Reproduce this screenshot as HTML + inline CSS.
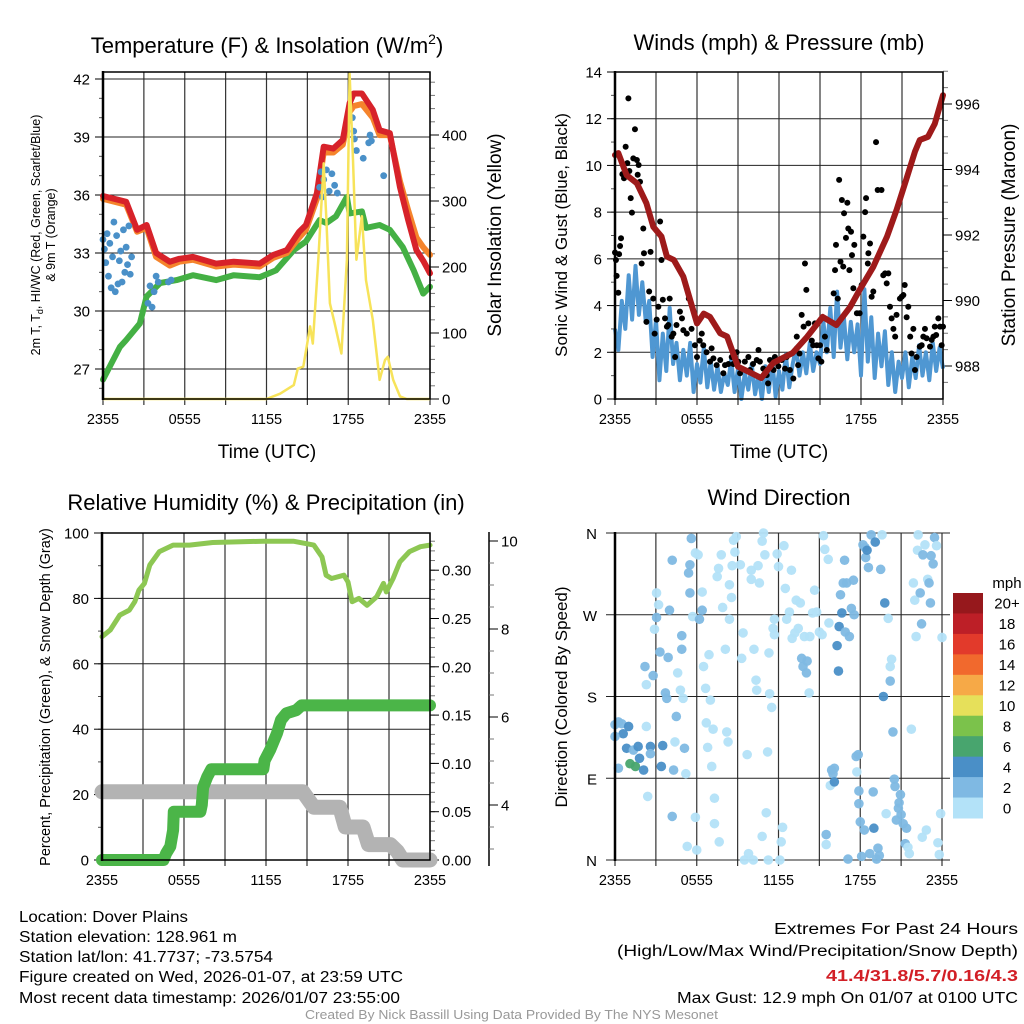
<!DOCTYPE html>
<html><head><meta charset="utf-8">
<style>
html,body{margin:0;padding:0;background:#fff;}
svg{display:block;font-family:"Liberation Sans",sans-serif;}
</style></head>
<body>
<svg id="chart" width="1024" height="1024" viewBox="0 0 1024 1024" xmlns="http://www.w3.org/2000/svg">
<rect x="0" y="0" width="1024" height="1024" fill="#fff"/>
<text x="267" y="53" font-size="22" text-anchor="middle">Temperature (F) &amp; Insolation (W/m<tspan font-size="14" dy="-9">2</tspan><tspan dy="9">)</tspan></text>
<text x="779" y="50" font-size="22" text-anchor="middle">Winds (mph) &amp; Pressure (mb)</text>
<text x="266" y="510" font-size="22" text-anchor="middle">Relative Humidity (%) &amp; Precipitation (in)</text>
<text x="779" y="505" font-size="22" text-anchor="middle">Wind Direction</text>

<text x="267" y="458" font-size="19" text-anchor="middle">Time (UTC)</text>
<text x="779" y="458" font-size="19" text-anchor="middle">Time (UTC)</text>

<text transform="translate(40,235) rotate(-90)" font-size="12.5" text-anchor="middle">2m T, T<tspan font-size="9" dy="3">d</tspan><tspan dy="-3">, HI/WC (Red, Green, Scarlet/Blue)</tspan></text>
<text transform="translate(55,235) rotate(-90)" font-size="12.5" text-anchor="middle">&amp; 9m T (Orange)</text>
<text transform="translate(501,235) rotate(-90)" font-size="19" text-anchor="middle">Solar Insolation (Yellow)</text>
<text transform="translate(567,235) rotate(-90)" font-size="17" text-anchor="middle">Sonic Wind &amp; Gust (Blue, Black)</text>
<text transform="translate(1015,235) rotate(-90)" font-size="19" text-anchor="middle">Station Pressure (Maroon)</text>
<text transform="translate(50,697) rotate(-90)" font-size="14.5" text-anchor="middle">Percent, Precipitation (Green), &amp; Snow Depth (Gray)</text>
<text transform="translate(567,697) rotate(-90)" font-size="17" text-anchor="middle">Direction (Colored By Speed)</text>

<g font-size="15.5">
<text x="19" y="922" textLength="169" lengthAdjust="spacingAndGlyphs">Location: Dover Plains</text>
<text x="19" y="942" textLength="218" lengthAdjust="spacingAndGlyphs">Station elevation: 128.961 m</text>
<text x="19" y="962" textLength="254" lengthAdjust="spacingAndGlyphs">Station lat/lon: 41.7737; -73.5754</text>
<text x="19" y="982" textLength="384" lengthAdjust="spacingAndGlyphs">Figure created on Wed, 2026-01-07, at 23:59 UTC</text>
<text x="19" y="1003" textLength="381" lengthAdjust="spacingAndGlyphs">Most recent data timestamp: 2026/01/07 23:55:00</text>
</g>
<g font-size="15.5">
<text x="774" y="934" textLength="244" lengthAdjust="spacingAndGlyphs">Extremes For Past 24 Hours</text>
<text x="617" y="956" textLength="401" lengthAdjust="spacingAndGlyphs">(High/Low/Max Wind/Precipitation/Snow Depth)</text>
<text x="826" y="981" textLength="192" lengthAdjust="spacingAndGlyphs" fill="#d21f26" font-weight="bold">41.4/31.8/5.7/0.16/4.3</text>
<text x="677" y="1003" textLength="341" lengthAdjust="spacingAndGlyphs">Max Gust: 12.9 mph On 01/07 at 0100 UTC</text>
</g>
<text x="305" y="1019" font-size="12.5" fill="#999" textLength="413" lengthAdjust="spacingAndGlyphs">Created By Nick Bassill Using Data Provided By The NYS Mesonet</text>
</svg>
<script>
// ---------- DATA ----------
const redT = [0,1.7,2.5,3.2,3.9,4.9,5.6,6.6,8.3,9.6,11.5,12.5,13.5,14.4,14.9,15.7,16.2,16.9,17.6,18.1,18.4,19,19.8,20.3,21.05,21.8,22.4,23,23.5,24];
const redV = [35.95,35.65,34.2,34.45,33.0,32.55,32.7,32.8,32.45,32.55,32.45,32.9,33.15,34.1,34.45,36.1,38.5,38.4,38.85,40.75,41.25,41.25,40.4,39.35,39.2,36.4,34.7,33.15,32.6,31.95];
const orangeV = [35.8,35.5,34.1,34.3,32.8,32.35,32.55,32.65,32.3,32.4,32.3,32.75,33.0,33.8,34.2,35.8,38.2,38.2,38.6,40.3,40.6,40.7,40.0,39.1,39.1,36.7,35.2,33.8,33.3,32.9];
const greenT = [0,1.25,1.7,2.7,3.2,4.2,5.4,6.6,8.3,9.6,11.5,12.7,14,14.9,15.9,16.4,17.1,17.9,18.1,19,19.3,20.3,21.05,22,22.8,23.5,24];
const greenV = [26.45,28.15,28.5,29.35,30.75,31.45,31.6,31.85,31.6,31.85,31.75,32.1,33.15,33.6,34.7,34.55,34.9,35.9,35.05,35.15,34.3,34.45,34.2,33.3,32.1,30.9,31.25];
const hiwcT = [0,0.1,0.2,0.3,0.4,0.5,0.6,0.7,0.8,0.9,1.0,1.1,1.2,1.3,1.4,1.5,1.6,1.7,1.8,1.9,2.0,2.1,3.3,3.45,3.6,3.75,3.9,4.05,4.8,5.0,15.9,16.0,16.1,16.2,16.4,16.6,16.8,17.0,17.2,18.3,18.4,18.45,18.6,19.1,19.5,19.6,19.7,20.6];
const hiwcV = [33.7,33.2,32.5,34.0,31.8,33.5,31.2,32.8,34.6,31.0,33.9,31.4,32.6,33.1,31.5,34.2,32.0,33.3,32.4,34.4,31.9,32.8,30.4,31.3,30.2,31.0,31.8,31.5,31.5,31.6,36.4,37.2,35.9,36.8,37.3,36.2,37.1,36.5,36.1,40.0,39.3,38.9,38.3,37.9,38.7,39.1,38.8,37.0];
const solarT = [0,12,13,14,14.3,14.7,15.2,15.4,15.8,16.2,16.4,16.65,17,17.5,17.9,18.1,18.35,18.6,19,19.3,19.8,20.3,20.7,20.9,21.3,21.8,22.3,24];
const solarV = [0,0,8,21,46,49,110,84,211,357,271,145,115,69,211,493,362,211,277,180,120,29,59,64,29,4,0,0];
const tempTicks = [27,30,33,36,39,42];
const solarTicks = [0,100,200,300,400];
const timeLabels = ["2355","0555","1155","1755","2355"];

const presT = [0,0.24,0.85,1.6,2.3,2.8,3.4,3.8,4.3,5,6,6.5,6.95,7.7,8.2,9,9.9,10.7,11.6,13,14,15.2,16.2,17.2,17.9,18.9,19.9,20.6,21.3,21.95,22.3,22.9,23.4,24];
const presV = [994.44,994.5,993.83,993.58,992.97,992.25,991.95,991.34,991.24,990.73,989.3,989.6,989.5,989.0,988.9,987.98,987.8,987.63,988.1,988.4,988.86,989.5,989.25,989.8,990.32,991.03,991.95,992.76,993.68,994.55,994.9,995.0,995.4,996.27];
const windV = [3.0,2.1,4.2,3.0,5.3,3.4,5.7,3.6,5.0,3.3,4.2,1.8,3.4,0.8,2.8,1.2,3.9,1.5,2.4,0.8,2.1,1.0,2.4,0.3,1.5,0.7,2.2,0.5,1.6,0.4,1.4,0.3,1.1,0.6,1.7,0.3,1.3,0.0,1.1,0.4,1.5,0.2,1.0,0.0,1.4,0.3,1.7,0.1,1.2,0.4,1.9,0.5,1.5,2.2,1.0,2.0,1.1,2.4,1.2,2.0,1.5,3.3,2.0,3.9,1.8,4.6,2.2,3.5,1.7,3.3,2.0,3.2,1.0,4.7,1.6,3.5,0.9,2.8,1.4,2.9,0.6,2.0,0.3,1.6,0.9,2.0,0.5,1.8,0.9,2.3,1.0,2.0,0.8,2.4,1.2,2.2,1.3];
const gustT = [0,0.07,0.12,0.24,0.3,0.37,0.44,0.54,0.66,0.78,0.9,0.98,1.05,1.15,1.24,1.34,1.46,1.6,1.66,1.73,1.83,1.95,2.07,2.12,2.3,2.5,2.6,2.8,2.9,3.05,3.17,3.3,3.4,3.5,3.66,3.8,3.9,4,4.15,4.27,4.4,4.5,4.75,4.9,5,5.25,5.4,5.6,5.85,6,6.2,6.35,6.46,6.7,6.95,7.07,7.2,7.44,7.7,7.93,8.05,8.3,8.54,8.66,8.9,9.02,9.15,9.27,9.5,9.76,9.88,10.1,10.37,10.5,10.6,10.85,11.1,11.2,11.34,11.6,11.7,11.95,12.2,12.44,12.56,12.8,13.05,13.3,13.4,13.5,13.66,13.8,13.9,14,14.15,14.4,14.5,14.63,14.76,14.88,15,15.1,15.36,15.5,16,16.1,16.17,16.3,16.4,16.5,16.6,16.7,16.76,16.9,17,17.07,17.15,17.27,17.34,17.44,17.51,17.7,17.9,18.05,18.17,18.3,18.37,18.5,18.54,18.66,18.78,18.9,19.1,19.22,19.5,19.63,19.76,19.88,20,20.12,20.24,20.37,20.5,20.6,20.85,20.98,21.1,21.2,21.34,21.46,21.6,21.7,21.83,21.95,22.07,22.3,22.44,22.56,22.68,22.8,23.05,23.17,23.3,23.4,23.5,23.66,23.78,23.9,24];
const gustV = [6.27,5.95,5.27,4.55,6.2,6.55,6.88,9.63,9.45,10.8,10.1,12.87,9.76,8.6,7.98,10.3,11.55,10.23,9.6,10.02,9.3,5.8,7.3,6.24,3.3,4.6,6.3,4.3,2.8,3.4,3.95,7.6,5.95,4.25,3.45,3.1,3.17,4.3,2.67,2.8,1.8,3.17,3.74,3.45,2.95,2.8,4.3,3.0,2.3,1.8,2.5,2.8,2.3,2.0,1.6,2.17,1.74,1.45,1.67,1.1,1.45,1.5,1.8,1.5,2.0,1.6,1.1,1.3,1.6,1.8,1.24,1.5,1.67,2.1,1.6,1.3,1.02,0.67,1.67,1.24,1.8,1.4,1.67,1.3,1.8,1.24,0.88,2.67,1.45,1.95,3.6,3.1,5.8,4.67,3.24,2.5,2.3,3.24,2.3,1.74,2.3,1.6,2.67,2.1,4.52,5.52,6.6,4.3,9.38,5.88,8.52,5.67,7.95,6.9,8.4,7.3,5.52,7.16,6.16,4.74,6.6,3.67,3.67,4.88,6.95,8.0,8.6,5.8,6.24,6.66,4.38,4.6,11.0,8.95,8.95,5.3,5.38,4.95,5.38,3.95,3.45,3.0,2.67,3.6,4.3,4.38,4.45,4.88,3.5,3.95,2.67,1.95,3.0,1.24,1.8,2.24,2.3,2.67,3.0,2.6,2.24,2.53,2.67,3.1,2.74,3.45,3.1,2.3,3.1];
const windTicks = [0,2,4,6,8,10,12,14];
const presTicks = [988,990,992,994,996];

const rhT = [0,0.6,1.3,2,2.4,2.7,3.1,3.5,4.2,5.2,6.4,8.1,11.8,14,15.5,16.1,16.4,16.8,17.7,18,18.3,18.8,19.4,20.1,20.6,20.8,21.3,21.8,22.5,23.3,24];
const rhV = [68.3,70.3,74.9,76.4,79,82.5,84.6,90.2,94.3,96.3,96.3,97.1,97.5,97.5,96.3,92.7,87.1,86.1,87.1,85,79,80,77.9,80.5,84.6,82,86.1,91.2,94.3,95.8,96.3];
const precipT = [0,4.5,4.7,5,5.2,5.25,7.2,7.3,7.4,7.7,8,11.8,11.9,12.3,12.8,13.1,13.5,14.2,14.6,24];
const precipV = [0,0,0.007,0.014,0.031,0.05,0.05,0.057,0.075,0.086,0.094,0.094,0.103,0.114,0.131,0.145,0.152,0.155,0.16,0.16];
const snowT = [0,14.7,15.5,17.4,17.8,19.1,19.5,21.1,21.6,22,24];
const snowV = [4.3,4.3,3.95,3.95,3.5,3.5,3.1,3.1,2.95,2.75,2.75];
const rhTicks = [0,20,40,60,80,100];
const precipTicks = ["0.00","0.05","0.10","0.15","0.20","0.25","0.30"];
const snowTicks = [4,6,8,10];

const dirT = [0,0.25,0.5,0.6,0,0.85,1,1.35,1.7,1.1,1.5,1.8,2.1,2.6,2.6,0.25,2.3,2.2,2.3,2.4,2.8,2.9,3.05,3.2,3.05,3.3,3.7,3.8,3.4,3.5,4,3.9,4.2,4.2,4.3,4.4,4.5,4.6,4.8,4.9,4.9,5,5.1,5.2,5.3,5.4,5.5,5.5,5.6,5.7,5.9,5.9,6,6.1,6.2,6.4,6.4,6.5,6.65,6.7,6.8,6.9,7,7.1,7.2,7.3,7.3,7.5,7.6,7.65,7.8,7.9,8.1,8.2,8.3,8.4,8.4,8.55,8.6,8.7,8.8,8.9,9.2,9.3,9.4,9.5,9.7,9.8,10,10,10.15,10.2,10.35,10.4,10.5,10.6,10.8,10.8,10.9,11,11.1,11.2,11.25,11.3,11.35,11.5,11.6,11.7,11.7,11.9,12,12.1,12.2,12.3,12.4,12.5,12.6,12.8,12.95,13,13.2,13.3,13.45,13.6,13.7,13.8,13.9,14.05,14.1,14.25,14.3,14.5,14.65,14.8,15,15.2,15.3,15.4,15.5,15.5,15.65,15.7,15.8,15.9,16,16.1,16.1,16.3,16.4,16.45,16.55,16.65,16.75,16.85,16.9,17,17.1,17.2,17.35,17.5,17.55,17.7,17.75,17.85,17.9,17.9,18,18.1,18.2,18.3,18.35,18.4,18.5,18.6,18.7,18.8,18.95,19,19.1,19.2,19.3,19.4,19.5,19.6,19.7,19.8,19.9,20.05,20.2,20.2,20.3,20.4,20.5,20.55,20.65,20.8,20.85,20.95,21,21.15,21.3,21.4,21.5,21.6,21.75,21.9,22,22.1,22.2,22.25,22.4,22.5,22.55,22.6,22.75,22.85,22.95,23.05,23.15,23.2,23.35,23.45,23.6,23.7,23.8,23.9,24];
const dirD = [149,152,150,139,136,123,147,121,125,106,103,112,99,125,117,101,147,213,193,70,203,254,267,281,294,229,184,178,103,126,275,223,330,48,99,130,158,206,187,247,232,178,123,95,15,316,294,325,354,268,338,47,11,336,265,275,295,213,189,151,124,226,176,103,144,68,40,312,321,20,336,278,232,141,130,265,303,289,324,352,339,356,325,222,250,0,116,7,319,309,0,232,198,187,324,305,26,351,360,336,52,119,0,228,183,168,255,248,265,337,323,0,20,36,346,299,265,273,319,244,250,286,255,283,222,213,246,206,219,184,246,272,297,273,251,248,357,342,17,28,331,261,82,99,95,101,86,236,208,257,292,272,305,330,251,305,1,246,277,308,270,114,97,116,76,62,42,4,347,33,344,333,341,322,7,358,75,35,350,1,13,5,320,358,180,283,51,266,213,197,221,141,89,81,44,57,63,72,50,40,18,35,14,7,144,305,286,246,341,358,294,260,25,336,347,33,309,305,283,335,326,355,346,19,6,51,245];
const dirS = [3,2,2,4,3,4,4,3,4,6,6,4,4,4,3,2,1,3,1,1,3,1,3,1,1,3,3,2,4,4,3,3,3,3,3,1,3,1,1,3,3,1,3,1,1,3,3,3,3,1,1,1,1,1,3,3,1,1,1,1,1,1,1,1,1,1,1,1,1,1,1,1,1,1,1,1,1,1,1,1,1,1,1,1,1,1,1,1,1,1,1,1,1,1,1,1,1,1,1,1,1,1,1,1,1,1,1,1,1,1,1,1,1,1,1,1,1,1,1,1,1,1,1,1,3,3,1,3,3,1,1,1,1,1,1,1,1,1,1,3,1,1,1,3,3,3,4,4,4,5,3,5,3,3,3,3,3,3,3,3,2,3,1,3,3,3,3,3,3,3,3,3,4,3,2,3,3,4,4,2,3,3,2,1,4,4,1,1,1,3,1,3,3,3,3,3,3,3,3,3,3,2,1,1,1,1,1,1,1,1,3,3,1,3,1,1,1,3,3,3,3,3,1,1];
const dirLabels = ["N","E","S","W","N"];
const speedBins = ["0","2","4","6","8","10","12","14","16","18","20+"];
const speedColors = ["#b3e2f8","#7fb9e3","#4a8fc7","#48a56e","#7bc24b","#e6e05a","#f6a947","#f1692d","#e23a2b","#bd1f27","#96181c"];

// ---------- HELPERS ----------
const NS = "http://www.w3.org/2000/svg";
const svg = document.getElementById('chart');
function E(tag, attrs, parent){
  const e = document.createElementNS(NS, tag);
  for (const k in attrs) e.setAttribute(k, attrs[k]);
  (parent || svg).appendChild(e);
  return e;
}
function pathD(xs, ys, fx, fy){
  let d = "";
  for (let i=0;i<xs.length;i++){ d += (i? "L":"M") + fx(xs[i]).toFixed(1) + "," + fy(ys[i]).toFixed(1); }
  return d;
}
function stepT(n){ const a=[]; for(let i=0;i<n;i++) a.push(i*0.25); return a; }

const x1 = h => 103 + h*(327/24);
const yT = t => 79 + (42-t)*(290/15);
const yS = s => 399 - s*0.66;
const x2 = h => 615 + h*(328/24);
const yW = w => 399 - w*(327/14);
const yP = p => 366 - (p-988)*32.75;
const x3 = h => 102 + h*(328/24);
const yR = r => 860 - r*3.27;
const yPr = p => 860 - p*966;
const ySn = s => 805 - (s-4)*44;
const x4 = h => 615 + h*(327/24);
const yD = d => 860 - d*(327/360);

function grid(g, L, R, T, B, xf, yvals, yf){
  for (let h=0; h<=24; h+=3){
    const v = E('line',{x1:xf(h),x2:xf(h),y1:T,y2:B+6,stroke:"#333","stroke-width":1.2},g);
    
    
  }
  yvals.forEach(val=>{
    const l = E('line',{x1:L,x2:R,y1:yf(val),y2:yf(val),stroke:"#222","stroke-width":1},g);
    
    
  });
  timeLabels.forEach((lab,i)=>{
    const t = E('text',{x:xf(i*6),y:B+25,"font-size":14.5,"text-anchor":"middle"},g);
    t.textContent = lab;
    
    
  });
}
function frame(g, L, R, T, B){
  const f = E('rect',{x:L,y:T,width:R-L,height:B-T,fill:"none",stroke:"#000","stroke-width":1.5},g);
  
  
  const ls = E('line',{x1:L,x2:L,y1:T-1,y2:B+1,stroke:"#000","stroke-width":2.5},g);
  
  
}
function leftTicks(g, x, vals, yf, minors, labelFmt){
  minors.forEach(v=>{
    const m = E('line',{x1:x-4,x2:x,y1:yf(v),y2:yf(v),stroke:"#555","stroke-width":1},g);
    
    
  });
  vals.forEach(v=>{
    const tk = E('line',{x1:x-8,x2:x,y1:yf(v),y2:yf(v),stroke:"#000","stroke-width":1},g);
    
    
    const t = E('text',{x:x-13,y:yf(v)+5.5,"font-size":15,"text-anchor":"end"},g);
    t.textContent = labelFmt ? labelFmt(v) : v;
    
    
  });
}
function rightTicks(g, x, vals, labels, yf, minors){
  minors.forEach(v=>{
    const m = E('line',{x1:x,x2:x+5,y1:yf(v),y2:yf(v),stroke:"#777","stroke-width":1},g);
    
    
  });
  vals.forEach((v,i)=>{
    const tk = E('line',{x1:x,x2:x+9,y1:yf(v),y2:yf(v),stroke:"#000","stroke-width":1},g);
    
    
    const t = E('text',{x:x+12,y:yf(v)+5.5,"font-size":15},g);
    t.textContent = labels[i];
    
    
  });
}
function range(a,b,s){ const r=[]; for(let v=a; v<=b+1e-9; v+=s) r.push(+v.toFixed(4)); return r; }

// ---------- PANEL 1 ----------
const g1 = E('g',{});


grid(g1,103,430,72,399,x1,tempTicks,yT);
leftTicks(g1,103,tempTicks,yT,range(26,42,1));
rightTicks(g1,430,solarTicks,solarTicks,yS,range(0,480,20));
const grn = E('path',{d:pathD(greenT,greenV,x1,yT),fill:"none",stroke:"#44b044","stroke-width":6,"stroke-linejoin":"round","stroke-linecap":"round"},g1);


const org = E('path',{d:pathD(redT,orangeV,x1,yT),fill:"none",stroke:"#f5842c","stroke-width":6,"stroke-linejoin":"round","stroke-linecap":"round"},g1);


const red = E('path',{d:pathD(redT,redV,x1,yT),fill:"none",stroke:"#d7222a","stroke-width":6,"stroke-linejoin":"round","stroke-linecap":"round"},g1);


hiwcT.forEach((h,i)=>{
  const c = E('circle',{cx:x1(h),cy:yT(hiwcV[i]),r:3.4,fill:"#4a90c8"},g1);
  
  
});
const sol = E('path',{d:pathD(solarT,solarV,x1,yS),fill:"none",stroke:"#f7e35a","stroke-width":2.5,"stroke-linejoin":"round"},g1);


frame(g1,103,430,72,399);

// ---------- PANEL 2 ----------
const g2 = E('g',{});


grid(g2,615,943,72,399,x2,windTicks,yW);
leftTicks(g2,615,windTicks,yW,range(0,14,1));
rightTicks(g2,943,presTicks,presTicks,yP,range(987.5,997,0.5));
const wl = E('path',{d:pathD(stepT(windV.length),windV,x2,yW),fill:"none",stroke:"#4f97d2","stroke-width":4,"stroke-linejoin":"round"},g2);


gustT.forEach((h,i)=>{
  const c = E('circle',{cx:x2(h),cy:yW(gustV[i]),r:3,fill:"#000"},g2);
  
  
});
const pl = E('path',{d:pathD(presT,presV,x2,yP),fill:"none",stroke:"#9e1a1a","stroke-width":6,"stroke-linejoin":"round","stroke-linecap":"round"},g2);


frame(g2,615,943,72,399);

// ---------- PANEL 3 ----------
const g3 = E('g',{});


grid(g3,102,430,533,860,x3,rhTicks,yR);
leftTicks(g3,102,rhTicks,yR,range(0,100,10));
rightTicks(g3,430,precipTicks.map(Number),precipTicks,yPr,range(0,0.33,0.01));
const snAxis = E('line',{x1:489,x2:489,y1:532,y2:866,stroke:"#000","stroke-width":1.5},g3);


rightTicks(g3,489,snowTicks,snowTicks,ySn,range(3,10,0.5));
const sn = E('path',{d:pathD(snowT,snowV,x3,ySn),fill:"none",stroke:"#b3b3b3","stroke-width":15,"stroke-linejoin":"round","stroke-linecap":"round"},g3);


const pr = E('path',{d:pathD(precipT,precipV,x3,yPr),fill:"none",stroke:"#4bb548","stroke-width":12,"stroke-linejoin":"round","stroke-linecap":"round"},g3);


const rh = E('path',{d:pathD(rhT,rhV,x3,yR),fill:"none",stroke:"#8dc753","stroke-width":5,"stroke-linejoin":"round","stroke-linecap":"round"},g3);


frame(g3,102,430,533,860);

// ---------- PANEL 4 ----------
const g4 = E('g',{});


grid(g4,606,950,533,860,x4,[0,90,180,270,360],yD);
dirLabels.forEach((lab,i)=>{
  const t = E('text',{x:597,y:yD(i*90)+6,"font-size":15,"text-anchor":"end"},g4);
  t.textContent = lab;
  
  
});
dirT.forEach((h,i)=>{
  const s = (dirS[i] === undefined) ? 1 : dirS[i];
  const bin = Math.max(0, Math.min(10, Math.floor(s/2)));
  const c = E('circle',{cx:x4(h),cy:yD(dirD[i]),r:4.8,fill:speedColors[bin],opacity:0.95},g4);
  
  
});
const ls4 = E('line',{x1:615,x2:615,y1:532,y2:861,stroke:"#000","stroke-width":2.5},g4);


const cbTitle = E('text',{x:1007,y:588,"font-size":15,"text-anchor":"middle"},g4);
cbTitle.textContent = "mph";


const cbH = (818-593)/speedBins.length;
speedBins.forEach((lab,i)=>{
  const k = speedBins.length-1-i;
  const r = E('rect',{x:953,y:593+i*cbH,width:30,height:cbH+0.5,fill:speedColors[k]},g4);
  
  
  const t = E('text',{x:1007,y:593+i*cbH+cbH/2+5.5,"font-size":15,"text-anchor":"middle"},g4);
  t.textContent = speedBins[k];
  
  
});
</script>
</body></html>
